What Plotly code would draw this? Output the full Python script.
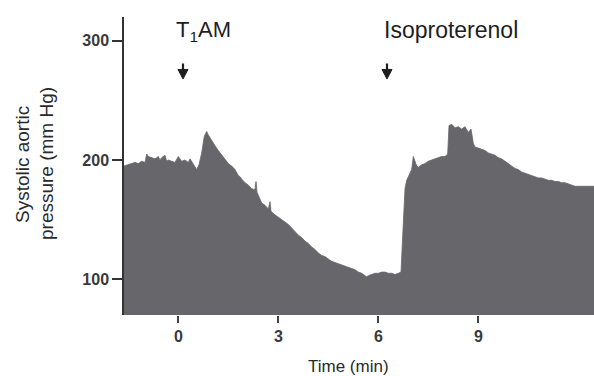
import plotly.graph_objects as go

# Time (min) and systolic aortic pressure (mm Hg)
time_min = [
    -1.63, -1.5, -1.4, -1.3, -1.2, -1.1, -1.0, -0.95, -0.9, -0.8, -0.7, -0.6, -0.55, -0.5,
    -0.4, -0.35, -0.3, -0.2, -0.1, 0.0, 0.1, 0.2, 0.3, 0.35, 0.45, 0.55, 0.62, 0.7, 0.78,
    0.85, 0.9, 1.0, 1.1, 1.2, 1.3, 1.4, 1.5, 1.6, 1.7, 1.8, 1.85, 1.9, 2.0, 2.1, 2.2, 2.3,
    2.33, 2.36, 2.45, 2.5, 2.6, 2.7, 2.75, 2.78, 2.9, 3.0, 3.1, 3.2, 3.3, 3.4, 3.5, 3.6,
    3.7, 3.8, 3.9, 4.0, 4.1, 4.2, 4.3, 4.4, 4.5, 4.6, 4.7, 4.8, 4.9, 5.0, 5.1, 5.2, 5.3,
    5.4, 5.5, 5.6, 5.65, 5.7, 5.8, 5.9, 6.0, 6.1, 6.2, 6.3, 6.4, 6.5, 6.6, 6.68, 6.72,
    6.76, 6.8, 6.85, 6.9, 6.95, 7.0, 7.05, 7.1, 7.15, 7.2, 7.3, 7.4, 7.5, 7.6, 7.7, 7.8,
    7.9, 8.0, 8.08, 8.12, 8.2, 8.3, 8.4, 8.5, 8.6, 8.7, 8.78, 8.85, 8.9, 9.0, 9.1, 9.2,
    9.3, 9.4, 9.5, 9.6, 9.7, 9.8, 9.9, 10.0, 10.1, 10.2, 10.3, 10.4, 10.5, 10.6, 10.7,
    10.8, 10.9, 11.0, 11.1, 11.2, 11.3, 11.4, 11.5, 11.6, 11.7, 11.8, 11.9, 12.0, 12.2, 12.5,
]
pressure = [
    195, 196, 197, 198, 197, 199, 198, 205, 203, 202, 201, 203, 200, 202,
    204, 199, 200, 199, 198, 203, 199, 200, 198, 201, 196, 192, 196, 206, 220,
    224, 221, 216, 212, 208, 204, 201, 197, 195, 192, 187, 186, 184, 181, 179, 176, 175,
    182, 173, 167, 164, 162, 159, 165, 157, 154, 152, 150, 148, 146, 143, 140, 137,
    135, 132, 130, 127, 125, 122, 120, 119, 117, 115, 114, 113, 112, 111, 110, 109, 108,
    106, 105, 103, 102, 103, 104, 105, 105, 106, 106, 105, 105, 104, 105, 106, 130,
    160, 176, 183, 186, 190, 192, 203, 198, 195, 194, 196, 197, 199, 200, 201, 202,
    203, 203, 205, 229, 230, 227, 228, 226, 228, 223, 226, 214, 211, 210, 209, 208,
    206, 205, 204, 202, 201, 199, 197, 195, 193, 192, 190, 189, 188, 187, 186,
    185, 185, 184, 183, 183, 182, 182, 181, 181, 180, 179, 178, 178, 178, 178,
]

x_ticks = [0, 3, 6, 9]
y_ticks = [100, 200, 300]

drug_names = ["T<sub>1</sub>AM", "Isoproterenol"]
drug_times = [0.14, 6.26]

fig = go.Figure()
fig.add_trace(go.Scatter(
    x=time_min, y=pressure, mode="lines", fill="tozeroy",
    line=dict(color="#67676b", width=0.8), fillcolor="#67676b",
    hoverinfo="skip", showlegend=False,
))

font_family = "Liberation Sans, Arial, sans-serif"
arrow_color = "#1e1e1e"

# arrows marking drug administration (vertical stem + triangular head)
shapes = []
for t in drug_times:
    shapes.append(dict(type="line", xref="x", yref="y", x0=t, x1=t, y0=281, y1=274,
                       line=dict(color=arrow_color, width=2.2)))
    shapes.append(dict(type="path", xref="x", yref="y",
                       path=f"M {t - 0.15} 276 L {t + 0.15} 276 L {t} 268 Z",
                       fillcolor=arrow_color, line=dict(color=arrow_color, width=1)))

annotations = []
annotations.append(dict(x=(203 - 124) / 470, y=(315 - 31) / 298, xref="paper", yref="paper",
                        text=drug_names[0], showarrow=False, xanchor="center", yanchor="middle",
                        font=dict(family=font_family, size=22, color="#1e1e1e")))
annotations.append(dict(x=(451 - 124) / 470, y=(315 - 30) / 298, xref="paper", yref="paper",
                        text=drug_names[1], showarrow=False, xanchor="center", yanchor="middle",
                        font=dict(family=font_family, size=23, color="#1e1e1e")))
# y title (two lines)
annotations.append(dict(x=(23 - 124) / 470, y=(315 - 165) / 298, xref="paper", yref="paper",
                        text="Systolic aortic", showarrow=False, textangle=-90,
                        xanchor="center", yanchor="middle",
                        font=dict(family=font_family, size=19, color="#2a2a2a")))
annotations.append(dict(x=(46 - 124) / 470, y=(315 - 164) / 298, xref="paper", yref="paper",
                        text="pressure (mm Hg)", showarrow=False, textangle=-90,
                        xanchor="center", yanchor="middle",
                        font=dict(family=font_family, size=19, color="#2a2a2a")))
# x title
annotations.append(dict(x=(348 - 124) / 470, y=(315 - 366) / 298, xref="paper", yref="paper",
                        text="Time (min)", showarrow=False, xanchor="center", yanchor="middle",
                        font=dict(family=font_family, size=17, color="#2a2a2a")))

fig.update_layout(
    width=594, height=376,
    margin=dict(l=124, r=0, t=17, b=61),
    paper_bgcolor="white", plot_bgcolor="white",
    annotations=annotations, shapes=shapes,
    xaxis=dict(
        range=[-1.63, 12.47], tickvals=x_ticks, ticktext=[f"<b>{v}</b>" for v in x_ticks],
        showgrid=False, zeroline=False, showline=False,
        ticks="outside", ticklen=7, tickwidth=1.5, tickcolor="#444444",
        tickfont=dict(family=font_family, size=16, color="#3a3a3a"),
    ),
    yaxis=dict(
        range=[70, 320], tickvals=y_ticks, ticktext=[f"<b>{v}</b>" for v in y_ticks],
        showgrid=False, zeroline=False, showline=True, linecolor="#333333", linewidth=1.5,
        ticks="outside", ticklen=10, tickwidth=1.5, tickcolor="#333333",
        tickfont=dict(family=font_family, size=16, color="#3a3a3a"),
    ),
)

fig.write_html("out.html")
